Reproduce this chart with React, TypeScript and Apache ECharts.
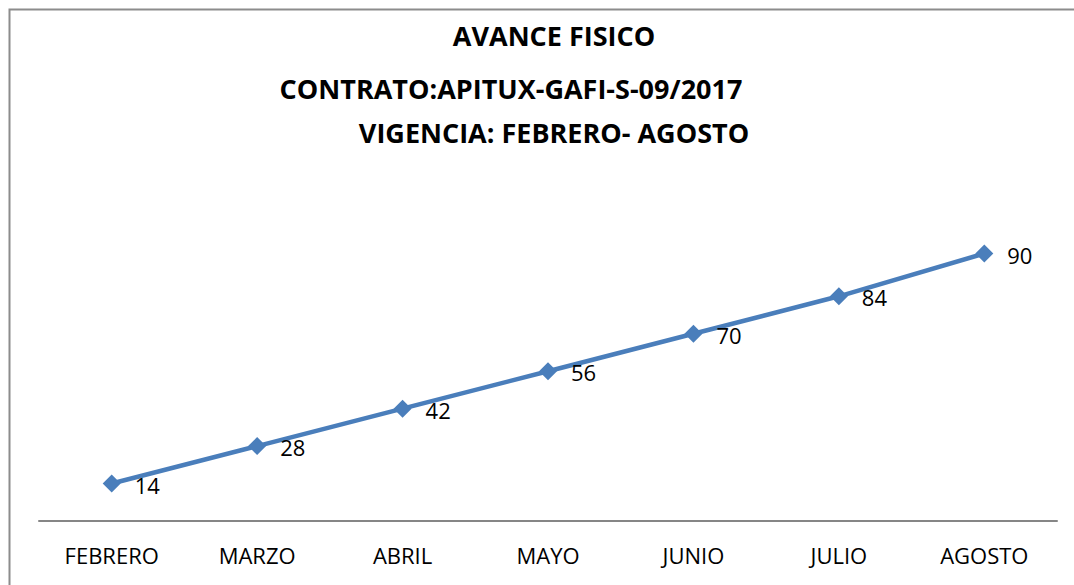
import React, { useEffect, useRef } from "react";
import * as echarts from "echarts";

const categories = ["FEBRERO", "MARZO", "ABRIL", "MAYO", "JUNIO", "JULIO", "AGOSTO"];
// plotted heights
const values = [14, 28, 42, 56, 70, 84, 100];
// data labels as printed in the picture
const labels = ["14", "28", "42", "56", "70", "84", "90"];
const titles = ["AVANCE FISICO", "CONTRATO:APITUX-GAFI-S-09/2017", "VIGENCIA: FEBRERO- AGOSTO"];

export default function App() {
  const ref = useRef<HTMLDivElement>(null);
  useEffect(() => {
    if (!ref.current) return;
    const chart = echarts.init(ref.current, null, { renderer: "svg" });
    const font = "'Open Sans', 'Noto Sans', sans-serif";
    chart.setOption({
      animation: false,
      backgroundColor: "#ffffff",
      graphic: [
        {
          type: "rect",
          shape: { x: 9.5, y: 9.5, width: 1080, height: 600 },
          style: { fill: "none", stroke: "#8c8c8c", lineWidth: 2 },
          silent: true,
        },
        {
          type: "text",
          x: 554,
          y: 35,
          style: { text: titles[0], font: `bold 27px ${font}`, fill: "#000", align: "center", verticalAlign: "middle" },
        },
        {
          type: "text",
          x: 511,
          y: 88,
          style: { text: titles[1], font: `bold 27px ${font}`, fill: "#000", align: "center", verticalAlign: "middle" },
        },
        {
          type: "text",
          x: 554,
          y: 132,
          style: { text: titles[2], font: `bold 27px ${font}`, fill: "#000", align: "center", verticalAlign: "middle" },
        },
      ],
      grid: { left: 39, right: 17, top: 200, bottom: 64, containLabel: false },
      xAxis: {
        type: "category",
        data: categories,
        boundaryGap: true,
        axisLine: { show: true, lineStyle: { color: "#868686", width: 2 } },
        axisTick: { show: false },
        axisLabel: { color: "#000", fontSize: 22, fontFamily: font, margin: 23 },
      },
      yAxis: {
        type: "value",
        min: 0,
        max: 120,
        show: false,
        splitLine: { show: false },
      },
      series: [
        {
          type: "line",
          data: values,
          symbol: "diamond",
          symbolSize: 18,
          lineStyle: { color: "#4A7EBB", width: 4.5 },
          itemStyle: { color: "#4A7EBB" },
          label: {
            show: true,
            position: "right",
            distance: 6,
            offset: [8, 1],
            color: "#000",
            fontSize: 22,
            fontFamily: font,
            formatter: (p: any) => labels[p.dataIndex],
          },
        },
      ],
    });
    return () => chart.dispose();
  }, []);
  return <div ref={ref} style={{ width: 1074, height: 585, position: "absolute", left: 0, top: 0 }} />;
}
